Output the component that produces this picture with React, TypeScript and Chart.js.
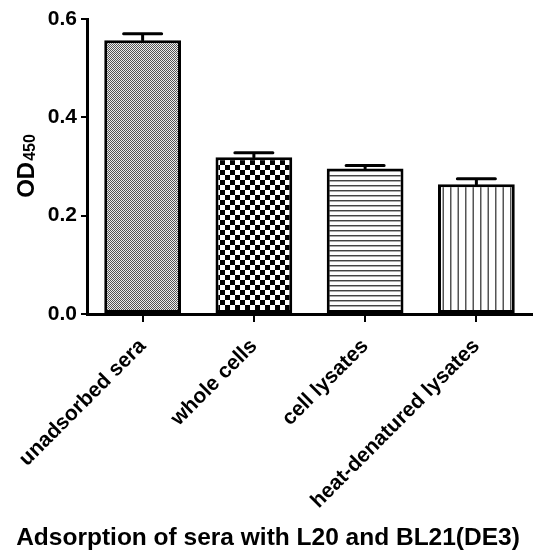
import React, { useEffect, useRef } from "react";
import { Chart, registerables } from "chart.js";

Chart.register(...registerables);

const categories = ["unadsorbed sera", "whole cells", "cell lysates", "heat-denatured lysates"];
const odValues = [0.557, 0.319, 0.296, 0.264];
const errorValues = [0.013, 0.009, 0.006, 0.011];
const yTickValues = [0, 0.2, 0.4, 0.6];
const yTitleMain = "OD";
const yTitleSub = "450";
const xTitle = "Adsorption of sera with L20 and BL21(DE3)";

const FONT = "'Liberation Sans', Arial, Helvetica, sans-serif";

function makePattern(kind: string): CanvasPattern | string {
  const c = document.createElement("canvas");
  const g = c.getContext("2d");
  if (!g) return "#999";
  if (kind === "fine") {
    c.width = 2; c.height = 2;
    g.fillStyle = "#eeeeee"; g.fillRect(0, 0, 2, 2);
    g.fillStyle = "#555555"; g.fillRect(0, 0, 1, 1); g.fillRect(1, 1, 1, 1);
  } else if (kind === "checker") {
    c.width = 10; c.height = 10;
    g.fillStyle = "#ffffff"; g.fillRect(0, 0, 10, 10);
    g.fillStyle = "#000000"; g.fillRect(0, 0, 5, 5); g.fillRect(5, 5, 5, 5);
  } else if (kind === "hlines") {
    c.width = 4; c.height = 5;
    g.fillStyle = "#ffffff"; g.fillRect(0, 0, 4, 5);
    g.fillStyle = "#444444"; g.fillRect(0, 0, 4, 1);
    g.fillStyle = "#aaaaaa"; g.fillRect(0, 1, 4, 1);
  } else {
    c.width = 15; c.height = 4;
    g.fillStyle = "#ffffff"; g.fillRect(0, 0, 15, 4);
    g.fillStyle = "#555555"; g.fillRect(0, 0, 1.5, 4); g.fillRect(7.5, 0, 1.5, 4);
  }
  const p = g.createPattern(c, "repeat");
  return p || "#999";
}

const errorBarPlugin = {
  id: "errorBars",
  afterDatasetsDraw(chart: any) {
    const ctx = chart.ctx;
    const meta = chart.getDatasetMeta(0);
    const y = chart.scales.y;
    ctx.save();
    ctx.strokeStyle = "#000";
    ctx.lineWidth = 3;
    ctx.lineCap = "round";
    meta.data.forEach((bar: any, i: number) => {
      const yb = y.getPixelForValue(odValues[i]);
      const yt = y.getPixelForValue(odValues[i] + errorValues[i]);
      ctx.beginPath();
      ctx.moveTo(bar.x, yb);
      ctx.lineTo(bar.x, yt);
      ctx.moveTo(bar.x - 19, yt);
      ctx.lineTo(bar.x + 19, yt);
      ctx.stroke();
    });
    ctx.restore();
  },
};

const titlePlugin = {
  id: "axisTitles",
  afterDraw(chart: any) {
    const ctx = chart.ctx;
    const area = chart.chartArea;
    ctx.save();
    ctx.fillStyle = "#000";
    // x title
    ctx.font = `bold 24.5px ${FONT}`;
    ctx.textAlign = "center";
    ctx.textBaseline = "alphabetic";
    ctx.fillText(xTitle, 268, 545);
    // y title with subscript
    const cy = (area.top + area.bottom) / 2;
    ctx.translate(34, cy);
    ctx.rotate(-Math.PI / 2);
    ctx.font = `bold 24px ${FONT}`;
    const w1 = ctx.measureText(yTitleMain).width;
    ctx.font = `bold 16px ${FONT}`;
    const w2 = ctx.measureText(yTitleSub).width;
    const start = -(w1 + w2) / 2;
    ctx.textAlign = "left";
    ctx.font = `bold 24px ${FONT}`;
    ctx.fillText(yTitleMain, start, 0);
    ctx.font = `bold 16px ${FONT}`;
    ctx.fillText(yTitleSub, start + w1 + 1, 1);
    ctx.restore();
  },
};

export default function App() {
  const ref = useRef<HTMLCanvasElement | null>(null);
  useEffect(() => {
    document.body.style.margin = "0";
    const canvas = ref.current;
    if (!canvas) return;
    const patterns = [makePattern("fine"), makePattern("checker"), makePattern("hlines"), makePattern("vlines")];
    const chart = new Chart(canvas, {
      type: "bar",
      data: {
        labels: categories,
        datasets: [
          {
            data: odValues,
            backgroundColor: patterns as any,
            borderColor: "#000",
            borderWidth: 3,
            borderSkipped: false,
            barPercentage: 0.69,
            categoryPercentage: 1,
          } as any,
        ],
      },
      options: {
        animation: false,
        responsive: false,
        events: [],
        font: { family: FONT },
        layout: { padding: { top: 19, right: 2, left: 0, bottom: 0 } },
        plugins: { legend: { display: false }, tooltip: { enabled: false }, title: { display: false } },
        scales: {
          x: {
            grid: { offset: false, drawOnChartArea: false, drawTicks: true, tickLength: 8, color: "#000", lineWidth: 2 },
            border: { color: "#000", width: 3 },
            ticks: {
              color: "#000",
              font: { family: FONT, size: 21, weight: "bold" },
              minRotation: 45,
              maxRotation: 45,
              autoSkip: false,
              padding: 12,
            },
            afterFit: (s: any) => { s.height = 240; },
          },
          y: {
            min: 0,
            max: 0.6,
            afterBuildTicks: (s: any) => { s.ticks = yTickValues.map((v) => ({ value: v })); },
            grid: { drawOnChartArea: false, drawTicks: true, tickLength: 6, color: "#000", lineWidth: 2 },
            border: { color: "#000", width: 3 },
            ticks: {
              color: "#000",
              font: { family: FONT, size: 21, weight: "bold" },
              padding: 4,
              callback: (v: any) => Number(v).toFixed(1),
            },
            afterFit: (s: any) => { s.width = 87; },
          },
        },
      } as any,
      plugins: [errorBarPlugin, titlePlugin],
    });
    return () => chart.destroy();
  }, []);
  return <canvas ref={ref} width={534} height={554} style={{ display: "block" }} />;
}
